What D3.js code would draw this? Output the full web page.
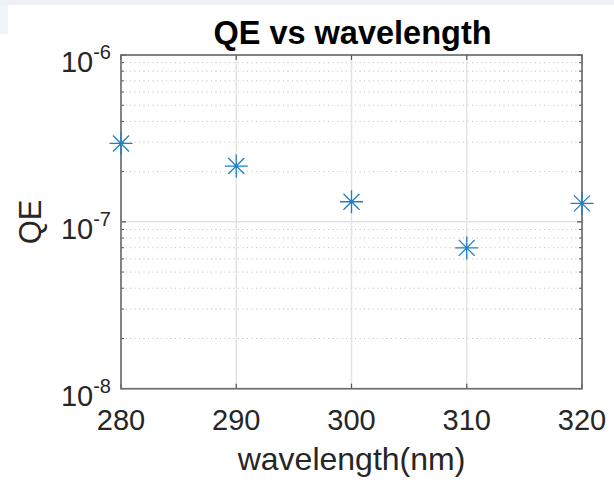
<!DOCTYPE html>
<html><head><meta charset="utf-8">
<script src="https://cdn.jsdelivr.net/npm/d3@7"></script>
<style>
body{margin:0;background:#fff;}
svg{display:block;font-family:"Liberation Sans",Arial,Helvetica,sans-serif;}
</style></head>
<body>
<svg id="c" width="614" height="482"></svg>
<script>
const wavelengths = [280, 290, 300, 310, 320];
const qeValues = [2.95e-7, 2.16e-7, 1.32e-7, 6.98e-8, 1.29e-7];
const xTicks = [280, 290, 300, 310, 320];
const yTickExponents = [-6, -7, -8];
const titleText = "QE vs wavelength";
const xLabelText = "wavelength(nm)";
const yLabelText = "QE";

const svg = d3.select("#c");
svg.append("rect").attr("x",0).attr("y",0).attr("width",614).attr("height",5).attr("fill","#eef2f8");
svg.append("rect").attr("x",0).attr("y",5).attr("width",8).attr("height",29).attr("fill","#f1f4fa");

const L=121, R=582, T=55, B=388.7;
const x = d3.scaleLinear().domain([280,320]).range([L,R]);
const y = d3.scaleLog().domain([1e-8,1e-6]).range([B,T]);

const g = svg.append("g");
const minors = [];
for (let e=-8; e<-6; e++) for (let m=2; m<=9; m++) minors.push(m*Math.pow(10,e));
g.selectAll("line.minor").data(minors).enter().append("line")
  .attr("x1",L).attr("x2",R).attr("y1",d=>y(d)).attr("y2",d=>y(d))
  .attr("stroke","#bdbdbd").attr("stroke-width",1).attr("stroke-dasharray","1,3.5");
g.selectAll("line.vmaj").data(xTicks).enter().append("line")
  .attr("x1",d=>x(d)).attr("x2",d=>x(d)).attr("y1",T).attr("y2",B)
  .attr("stroke","#e3e3e3").attr("stroke-width",1.5);
g.selectAll("line.hmaj").data(yTickExponents).enter().append("line")
  .attr("x1",L).attr("x2",R).attr("y1",d=>y(Math.pow(10,d))).attr("y2",d=>y(Math.pow(10,d)))
  .attr("stroke","#e3e3e3").attr("stroke-width",1.5);

const tc="#555";
xTicks.forEach(v=>{
  g.append("line").attr("x1",x(v)).attr("x2",x(v)).attr("y1",B).attr("y2",B-5).attr("stroke",tc).attr("stroke-width",1.2);
  g.append("line").attr("x1",x(v)).attr("x2",x(v)).attr("y1",T).attr("y2",T+5).attr("stroke",tc).attr("stroke-width",1.2);
});
yTickExponents.forEach(e=>{
  const yy=y(Math.pow(10,e));
  g.append("line").attr("x1",L).attr("x2",L+5).attr("y1",yy).attr("y2",yy).attr("stroke",tc).attr("stroke-width",1.2);
  g.append("line").attr("x1",R).attr("x2",R-5).attr("y1",yy).attr("y2",yy).attr("stroke",tc).attr("stroke-width",1.2);
});
minors.forEach(v=>{
  const yy=y(v);
  g.append("line").attr("x1",L).attr("x2",L+3).attr("y1",yy).attr("y2",yy).attr("stroke",tc).attr("stroke-width",1);
  g.append("line").attr("x1",R).attr("x2",R-3).attr("y1",yy).attr("y2",yy).attr("stroke",tc).attr("stroke-width",1);
});
g.append("rect").attr("x",L).attr("y",T).attr("width",R-L).attr("height",B-T)
  .attr("fill","none").attr("stroke","#6a6a6a").attr("stroke-width",1.6);

g.selectAll("text.xt").data(xTicks).enter().append("text")
  .attr("x",d=>x(d)).attr("y",430).attr("text-anchor","middle")
  .attr("font-size",29).attr("fill","#262626").text(d=>d);
yTickExponents.forEach(e=>{
  const yy=y(Math.pow(10,e));
  const t=g.append("text").attr("x",111).attr("y",yy+17).attr("text-anchor","end").attr("fill","#262626");
  t.append("tspan").attr("font-size",29).text("10");
  t.append("tspan").attr("font-size",20).attr("dy",-13).text(String(e));
});

const col="#1f7fc4";
const pts = wavelengths.map((w,i)=>({x:x(w),y:y(qeValues[i])}));
const mg = svg.append("g").attr("stroke",col).attr("stroke-width",1.3).attr("fill","none");
pts.forEach(p=>{
  const a=11.5, b=8;
  mg.append("path").attr("d",
    `M${p.x-a},${p.y}L${p.x+a},${p.y}M${p.x},${p.y-a}L${p.x},${p.y+a}`+
    `M${p.x-b},${p.y-b}L${p.x+b},${p.y+b}M${p.x-b},${p.y+b}L${p.x+b},${p.y-b}`);
});

svg.append("text").attr("x",(L+R)/2+1).attr("y",44).attr("text-anchor","middle")
  .attr("font-size",32.5).attr("font-weight","bold").attr("fill","#000").text(titleText);
svg.append("text").attr("x",(L+R)/2).attr("y",470).attr("text-anchor","middle")
  .attr("font-size",32).attr("fill","#262626").text(xLabelText);
svg.append("text").attr("transform",`translate(41,${(T+B)/2}) rotate(-90)`).attr("text-anchor","middle")
  .attr("font-size",31).attr("fill","#262626").text(yLabelText);
</script>
</body></html>
